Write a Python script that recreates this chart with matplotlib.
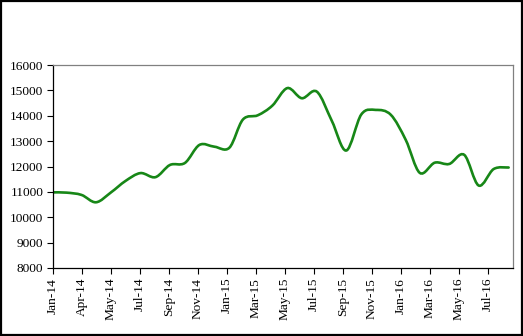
import datetime as dt
import numpy as np
import pandas as pd
import matplotlib
matplotlib.use("Agg")
import matplotlib.pyplot as plt
import matplotlib.dates as mdates
from matplotlib.path import Path
from matplotlib.patches import PathPatch, Rectangle

# month-end values, Jan 2014 - Aug 2016
months = pd.date_range("2014-01-31", "2016-08-31", freq="ME")
values = [10980, 10970, 10880, 10590, 10980, 11430, 11740, 11580,
          12060, 12140, 12850, 12780, 12740, 13850, 14020, 14400,
          15090, 14690, 14950, 13800, 12630, 14050, 14230, 14040,
          13050, 11750, 12150, 12100, 12460, 11250, 11900, 11960]

y_ticks = [8000, 9000, 10000, 11000, 12000, 13000, 14000, 15000, 16000]
tick_start = dt.date(2014, 1, 31)
tick_step_days = 60

plt.rcParams["font.family"] = ["Liberation Serif", "DejaVu Serif"]

fig = plt.figure(figsize=(5.23, 3.36), dpi=100)
ax = fig.add_axes([53 / 523, 68 / 336, 460 / 523, 203 / 336])

# smoothed line: cubic bezier through each point, like a spreadsheet "smoothed line"
x = mdates.date2num(months.to_pydatetime())
y = np.asarray(values, dtype=float)
pts = np.column_stack([x, y])
ext = np.vstack([pts[0], pts, pts[-1]])
verts = [pts[0]]
codes = [Path.MOVETO]
for i in range(len(pts) - 1):
    p0, p1, p2, p3 = ext[i], ext[i + 1], ext[i + 2], ext[i + 3]
    verts += [p1 + (p2 - p0) / 6, p2 - (p3 - p1) / 6, p2]
    codes += [Path.CURVE4] * 3
ax.add_patch(PathPatch(Path(verts, codes), facecolor="none",
                       edgecolor="#178717", lw=1.9, capstyle="round"))

ax.set_xlim(mdates.date2num(dt.date(2014, 1, 31)),
            mdates.date2num(dt.date(2016, 9, 9)))
ax.set_ylim(8000, 16000)
ax.set_yticks(y_ticks)

xt = [tick_start + dt.timedelta(days=tick_step_days * k) for k in range(16)]
ax.set_xticks(mdates.date2num(xt))
ax.xaxis.set_major_formatter(mdates.DateFormatter("%b-%y"))
plt.setp(ax.get_xticklabels(), rotation=90)

ax.tick_params(axis="both", direction="out", length=4, width=0.8,
               labelsize=9.6, colors="black", pad=3)
for side in ("top", "right"):
    ax.spines[side].set_color("#808080")
for side in ("left", "bottom"):
    ax.spines[side].set_color("black")
for s in ax.spines.values():
    s.set_linewidth(0.9)

# outer frame
fig.patches.append(Rectangle((0.002, 0.003), 0.996, 0.994, transform=fig.transFigure,
                             fill=False, edgecolor="black", lw=1.6))

fig.savefig("out.png", dpi=100)
